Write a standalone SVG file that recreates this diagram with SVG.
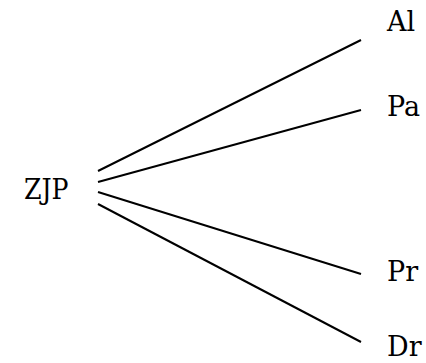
<svg xmlns="http://www.w3.org/2000/svg" width="426" height="363" viewBox="0 0 426 363">
<style>
text{font-family:"DejaVu Serif",serif;font-size:27px;fill:#000}
.c line{stroke:#000;stroke-width:2}
</style>
<rect width="426" height="363" fill="#fff"/>
<g id="zjp"><text x="24" y="199" style="font-family:'DejaVu Serif Condensed','DejaVu Serif',serif;font-size:28px">ZJP</text></g>
<g id="al"><text x="387" y="31">Al</text></g>
<g id="pa"><text x="387" y="116">Pa</text></g>
<g id="pr"><text x="387" y="281">Pr</text></g>
<g id="dr"><text x="387" y="356">Dr</text></g>
<g class="c" id="connectors">
<line x1="98" y1="171" x2="361" y2="40"/>
<line x1="98" y1="182" x2="361" y2="110"/>
<line x1="98" y1="192" x2="361" y2="274"/>
<line x1="98" y1="204" x2="361" y2="342"/>
</g>
</svg>
